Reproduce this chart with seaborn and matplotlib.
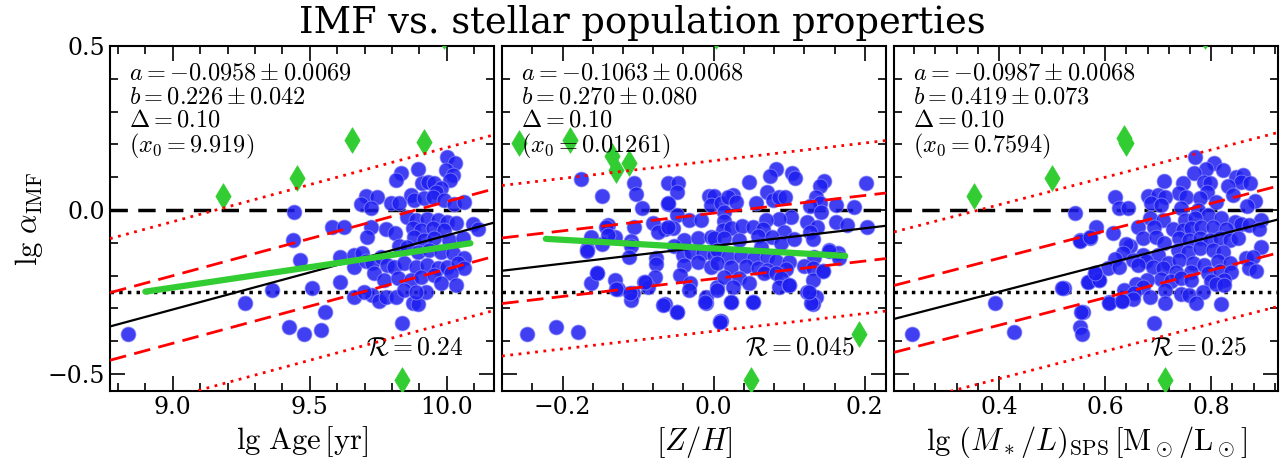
import numpy as np
import matplotlib
matplotlib.use("Agg")
import matplotlib.pyplot as plt
from matplotlib.ticker import MultipleLocator
import seaborn as sns

# lg Age [yr] vs lg alpha_IMF  (points kept by the fit)
age_points = [
    (9.999, 0.163), (10.029, 0.142), (9.895, 0.124), (9.832, 0.114), (9.816, 0.090),
    (9.997, 0.122), (10.021, 0.107), (10.011, 0.091), (9.911, 0.083), (9.933, 0.085),
    (9.954, 0.081), (9.978, 0.066), (9.960, 0.056), (9.704, 0.043), (9.746, 0.039),
    (9.686, 0.018), (9.722, 0.005), (9.795, 0.020), (9.826, 0.020), (9.868, 0.046),
    (9.881, 0.031), (9.917, 0.035), (9.948, 0.041), (9.990, 0.031), (10.027, 0.018),
    (10.061, 0.025), (9.582, -0.053), (9.625, -0.053), (9.722, -0.053), (9.710, -0.083),
    (9.777, -0.059), (9.810, -0.069), (9.856, -0.020), (9.887, -0.030), (9.929, -0.028),
    (9.966, -0.030), (10.002, -0.036), (10.033, -0.041), (10.094, -0.043), (10.112, -0.059),
    (9.875, -0.056), (9.905, -0.061), (9.948, -0.056), (9.990, -0.061), (9.881, -0.083),
    (9.917, -0.091), (9.954, -0.086), (10.009, -0.091), (10.060, -0.086), (9.826, -0.110),
    (9.856, -0.112), (9.893, -0.127), (9.936, -0.122), (9.978, -0.127), (10.021, -0.132),
    (10.064, -0.147), (9.612, -0.142), (9.661, -0.137), (9.692, -0.130), (9.661, -0.173),
    (9.704, -0.157), (9.728, -0.163), (9.759, -0.142), (9.783, -0.168), (9.734, -0.193),
    (9.807, -0.173), (9.844, -0.163), (9.887, -0.173), (9.929, -0.168), (9.966, -0.178),
    (10.002, -0.173), (10.039, -0.163), (10.064, -0.178), (9.771, -0.213), (9.820, -0.208),
    (9.868, -0.213), (9.905, -0.203), (9.954, -0.198), (10.015, -0.193), (9.978, -0.224),
    (10.033, -0.229), (9.612, -0.219), (9.509, -0.239), (9.466, -0.152), (9.661, -0.264),
    (9.728, -0.259), (9.753, -0.279), (9.777, -0.264), (9.814, -0.264), (9.875, -0.285),
    (9.893, -0.288), (9.923, -0.249), (9.844, -0.244), (9.887, -0.249), (9.554, -0.312),
    (9.838, -0.344), (9.542, -0.366), (9.698, -0.249), (8.836, -0.379), (9.265, -0.283),
    (9.363, -0.244), (9.439, -0.091), (9.442, -0.007), (9.423, -0.358), (9.478, -0.378),
]
# outliers (green diamonds)
age_outliers = [(9.182, 0.043), (9.452, 0.097), (9.655, 0.213), (9.917, 0.208),
                (9.988, 0.53), (9.836, -0.520)]

# [Z/H] vs lg alpha_IMF
zh_points = [
    (-0.176, 0.094), (-0.148, 0.043), (-0.105, 0.081), (-0.103, 0.048), (-0.095, 0.005),
    (-0.060, 0.083), (-0.047, 0.083), (-0.049, 0.056), (-0.060, 0.018), (-0.006, 0.043),
    (0.001, 0.043), (-0.003, 0.015), (0.010, 0.020), (-0.049, -0.015), (-0.032, -0.030),
    (-0.017, -0.030), (-0.140, -0.046), (-0.105, -0.053), (-0.080, -0.041), (-0.065, -0.059),
    (-0.054, -0.056), (-0.162, -0.081), (-0.148, -0.104), (-0.131, -0.083), (-0.110, -0.096),
    (-0.110, -0.110), (-0.168, -0.120), (-0.112, -0.144), (-0.076, -0.147), (-0.076, -0.165),
    (-0.039, -0.091), (-0.021, -0.086), (-0.003, -0.081), (-0.052, -0.110), (-0.041, -0.137),
    (-0.030, -0.127), (-0.014, -0.132), (0.001, -0.137), (-0.039, -0.168), (-0.021, -0.160),
    (-0.003, -0.173), (-0.044, -0.198), (-0.155, -0.193), (-0.162, -0.224), (-0.131, -0.213),
    (-0.127, -0.242), (-0.107, -0.254), (-0.109, -0.274), (-0.092, -0.221), (-0.078, -0.203),
    (-0.087, -0.234), (-0.031, -0.224), (-0.065, -0.287), (-0.049, -0.312), (-0.010, -0.264),
    (-0.010, -0.285), (0.005, -0.234), (0.008, -0.340),
    (0.082, 0.124), (0.075, 0.105), (0.103, 0.114), (0.107, 0.096), (0.047, 0.086),
    (0.071, 0.056), (0.146, 0.089), (0.140, 0.073), (0.201, 0.081), (0.025, 0.046),
    (0.019, 0.041), (0.030, 0.025), (0.056, 0.020), (0.078, 0.030), (0.087, 0.039),
    (0.094, 0.041), (0.135, 0.039), (0.141, 0.022), (0.128, 0.012), (0.162, 0.015),
    (0.186, 0.008), (0.014, -0.005), (0.142, -0.005), (0.102, -0.020), (0.087, -0.028),
    (0.069, -0.030), (0.124, -0.036), (0.162, -0.036), (0.176, -0.046), (0.203, -0.051),
    (0.014, -0.033), (0.012, -0.061), (0.023, -0.056), (0.038, -0.049), (0.052, -0.051),
    (0.065, -0.059), (0.093, -0.066), (0.137, -0.051), (0.128, -0.066), (0.001, -0.086),
    (0.014, -0.086), (0.034, -0.091), (0.058, -0.079), (0.077, -0.081), (0.089, -0.100),
    (0.106, -0.089), (0.131, -0.089), (0.063, -0.112), (0.153, -0.122), (0.164, -0.132),
    (0.133, -0.144), (0.005, -0.122), (0.019, -0.142), (0.036, -0.140), (0.054, -0.147),
    (0.071, -0.142), (0.082, -0.157), (0.100, -0.160), (0.005, -0.163), (0.023, -0.173),
    (0.043, -0.171), (0.058, -0.178), (0.071, -0.183), (0.096, -0.181), (0.120, -0.171),
    (0.131, -0.178), (0.144, -0.185), (0.014, -0.203), (0.034, -0.208), (0.047, -0.224),
    (0.025, -0.234), (0.067, -0.193), (0.082, -0.191), (0.089, -0.208), (0.087, -0.234),
    (0.100, -0.229), (0.131, -0.213), (0.005, -0.244), (0.124, -0.249), (0.135, -0.264),
    (0.131, -0.287), (0.023, -0.281), (0.052, -0.282), (0.010, -0.340),
    (-0.247, -0.379), (-0.208, -0.358), (-0.179, -0.371), (-0.168, -0.124), (-0.155, -0.193),
    (-0.129, -0.242), (-0.111, -0.254), (-0.091, -0.221), (-0.067, -0.290), (-0.049, -0.310),
    (0.009, -0.343), (-0.032, -0.244), (-0.012, -0.280), (0.023, -0.280), (0.052, -0.280),
    (0.129, -0.285), (0.126, -0.249), (0.100, -0.229), (0.144, -0.185), (0.153, -0.124),
    (0.166, -0.146), (-0.142, -0.051), (-0.140, -0.076), (-0.074, -0.066), (-0.061, -0.051),
    (-0.061, 0.020),
]
zh_outliers = [(-0.257, 0.203), (-0.190, 0.213), (-0.134, 0.165), (-0.129, 0.122),
               (-0.112, 0.144), (0.003, 0.53), (0.192, -0.378), (0.049, -0.520)]

# lg (M*/L)_SPS vs lg alpha_IMF
ml_points = [
    (0.769, 0.163), (0.806, 0.142), (0.791, 0.124), (0.823, 0.122), (0.767, 0.114),
    (0.711, 0.089), (0.747, 0.081), (0.787, 0.086), (0.797, 0.083), (0.847, 0.100),
    (0.860, 0.107), (0.857, 0.086), (0.874, 0.083), (0.831, 0.073), (0.792, 0.056),
    (0.841, 0.046), (0.740, 0.051), (0.753, 0.039), (0.618, 0.039), (0.681, 0.043),
    (0.699, 0.046), (0.713, 0.039), (0.687, 0.020), (0.706, 0.015), (0.778, 0.035),
    (0.809, 0.025), (0.883, 0.028), (0.868, 0.012), (0.627, 0.005), (0.643, 0.005),
    (0.543, -0.008), (0.743, 0.005), (0.775, 0.000), (0.794, -0.015), (0.684, -0.025),
    (0.709, -0.030), (0.750, -0.030), (0.769, -0.025), (0.819, -0.025), (0.844, -0.036),
    (0.857, -0.043), (0.894, -0.030), (0.583, -0.053), (0.662, -0.053), (0.693, -0.051),
    (0.728, -0.059), (0.747, -0.061), (0.762, -0.056), (0.781, -0.053), (0.803, -0.053),
    (0.828, -0.059), (0.872, -0.046), (0.891, -0.059), (0.552, -0.091), (0.572, -0.084),
    (0.614, -0.069), (0.671, -0.086), (0.696, -0.081), (0.711, -0.100), (0.740, -0.086),
    (0.759, -0.091), (0.778, -0.086), (0.797, -0.091), (0.816, -0.086), (0.835, -0.091),
    (0.850, -0.086), (0.646, -0.110), (0.640, -0.104), (0.893, -0.114), (0.737, -0.122),
    (0.756, -0.127), (0.778, -0.117), (0.803, -0.122), (0.822, -0.127), (0.633, -0.132),
    (0.671, -0.137), (0.699, -0.137), (0.618, -0.150), (0.652, -0.154), (0.677, -0.157),
    (0.718, -0.163), (0.740, -0.152), (0.765, -0.163), (0.787, -0.168), (0.813, -0.157),
    (0.835, -0.163), (0.866, -0.147), (0.879, -0.144), (0.605, -0.178), (0.627, -0.175),
    (0.662, -0.168), (0.690, -0.173), (0.709, -0.178), (0.734, -0.188), (0.762, -0.188),
    (0.794, -0.191), (0.816, -0.185), (0.838, -0.188), (0.872, -0.178), (0.884, -0.185),
    (0.580, -0.193), (0.589, -0.215), (0.567, -0.221), (0.706, -0.211), (0.725, -0.218),
    (0.743, -0.208), (0.762, -0.213), (0.800, -0.218), (0.825, -0.213), (0.679, -0.213),
    (0.658, -0.226), (0.671, -0.234), (0.809, -0.226), (0.825, -0.229), (0.712, -0.244),
    (0.635, -0.244), (0.655, -0.254), (0.684, -0.264), (0.652, -0.272), (0.631, -0.277),
    (0.608, -0.281), (0.743, -0.256), (0.759, -0.259), (0.784, -0.249), (0.712, -0.285),
    (0.772, -0.285), (0.819, -0.287), (0.558, -0.312), (0.522, -0.239), (0.693, -0.344),
    (0.553, -0.356), (0.235, -0.379), (0.393, -0.283), (0.429, -0.371), (0.519, -0.239),
    (0.555, -0.310), (0.557, -0.378), (0.567, -0.221), (0.588, -0.213), (0.580, -0.193),
    (0.608, -0.283), (0.632, -0.277), (0.552, -0.094), (0.571, -0.083),
]
ml_outliers = [(0.352, 0.044), (0.500, 0.097), (0.635, 0.218), (0.639, 0.205),
               (0.788, 0.53), (0.713, -0.520)]

# fit results printed in each panel: a, b, x0, rms, R
fit_a = [-0.0958, -0.1063, -0.0987]
fit_b = [0.226, 0.270, 0.419]
fit_x0 = [9.919, 0.01261, 0.7594]
fit_rms = [0.103, 0.100, 0.102]
fit_texts = [
    r"$a=-0.0958\pm0.0069$" "\n" r"$b=0.226\pm0.042$" "\n" r"$\Delta=0.10$" "\n" r"$(x_0=9.919)$",
    r"$a=-0.1063\pm0.0068$" "\n" r"$b=0.270\pm0.080$" "\n" r"$\Delta=0.10$" "\n" r"$(x_0=0.01261)$",
    r"$a=-0.0987\pm0.0068$" "\n" r"$b=0.419\pm0.073$" "\n" r"$\Delta=0.10$" "\n" r"$(x_0=0.7594)$",
]
corr_texts = [r"$\mathcal{R}=0.24$", r"$\mathcal{R}=0.045$", r"$\mathcal{R}=0.25$"]

# green trend segments (first two panels only)
trend_x = [[8.90, 10.086], [-0.222, 0.174], None]
trend_y = [[-0.249, -0.1015], [-0.088, -0.140], None]

xlabels = [r"$\lg\,{\rm Age}\,[{\rm yr}]$", r"$[Z/H]$",
           r"$\lg\,(M_\ast/L)_{\rm SPS}\,[{\rm M_\odot/L_\odot}]$"]
xlims = [(8.771, 10.172), (-0.28, 0.228), (0.202, 0.926)]
xmajor = [0.5, 0.2, 0.2]
xminor = [0.1, 0.04, 0.04]

sns.set_style("ticks")
plt.rcParams["font.family"] = "serif"
plt.rcParams["font.serif"] = ["DejaVu Serif"]
plt.rcParams["mathtext.fontset"] = "cm"
plt.rcParams["axes.linewidth"] = 1.5
for key in ["text.color", "axes.labelcolor", "xtick.color", "ytick.color", "axes.edgecolor"]:
    plt.rcParams[key] = "black"

fig, axes = plt.subplots(1, 3, figsize=(12.85, 4.62), dpi=100, sharey=True)
fig.subplots_adjust(left=0.0856, right=0.9946, top=0.9004, bottom=0.1537, wspace=0.021)

all_points = [age_points, zh_points, ml_points]
all_out = [age_outliers, zh_outliers, ml_outliers]

for i, ax in enumerate(axes):
    xin, yin = np.array(all_points[i]).T
    xout, yout = np.array(all_out[i]).T
    x0, x1 = xlims[i]
    xx = np.array([x0, x1])
    yy = fit_a[i] + fit_b[i] * (xx - fit_x0[i])

    ax.axhline(0, color="k", ls=(0, (5, 3)), lw=2.5, zorder=1)
    ax.axhline(-0.25, color="k", ls=(0, (1, 1.5)), lw=2.5, zorder=1)

    sns.scatterplot(x=xin, y=yin, ax=ax, color="#1e1ef0", s=115, alpha=0.85,
                    edgecolor="#8a8aff", linewidth=0.6, zorder=2)
    sns.scatterplot(x=xout, y=yout, ax=ax, color="limegreen", marker="d", s=170,
                    edgecolor="limegreen", linewidth=0.5, zorder=3)

    ax.plot(xx, yy, color="k", lw=1.6, zorder=4)
    for k, ls in [(1.0, (0, (6, 3))), (2.6, (0, (1, 2)))]:
        ax.plot(xx, yy + k * fit_rms[i], color="red", ls=ls, lw=2, zorder=4)
        ax.plot(xx, yy - k * fit_rms[i], color="red", ls=ls, lw=2, zorder=4)

    if trend_x[i] is not None:
        sns.lineplot(x=trend_x[i], y=trend_y[i], ax=ax, color="limegreen", lw=4.5,
                     zorder=5, estimator=None)

    ax.text(0.05, 0.955, fit_texts[i], transform=ax.transAxes, ha="left", va="top",
            fontsize=17.5, linespacing=1.03)
    ax.text(0.92, 0.09, corr_texts[i], transform=ax.transAxes, ha="right",
            va="bottom", fontsize=18.5)

    ax.set_xlim(x0, x1)
    ax.set_ylim(-0.552, 0.5)
    ax.xaxis.set_major_locator(MultipleLocator(xmajor[i]))
    ax.xaxis.set_minor_locator(MultipleLocator(xminor[i]))
    ax.yaxis.set_major_locator(MultipleLocator(0.5))
    ax.yaxis.set_minor_locator(MultipleLocator(0.1))
    ax.tick_params(which="both", direction="in", top=True, right=True, width=1.2,
                   labelsize=17)
    ax.tick_params(which="major", length=11)
    ax.tick_params(which="minor", length=6)
    ax.set_xlabel(xlabels[i], fontsize=22, labelpad=4)
    for sp in ax.spines.values():
        sp.set_visible(True)

axes[0].set_ylabel(r"$\lg\,\alpha_{\rm IMF}$", fontsize=22, labelpad=2)
fig.suptitle("IMF vs. stellar population properties", fontsize=26.5, y=0.99)

fig.savefig("out.png", dpi=100)
